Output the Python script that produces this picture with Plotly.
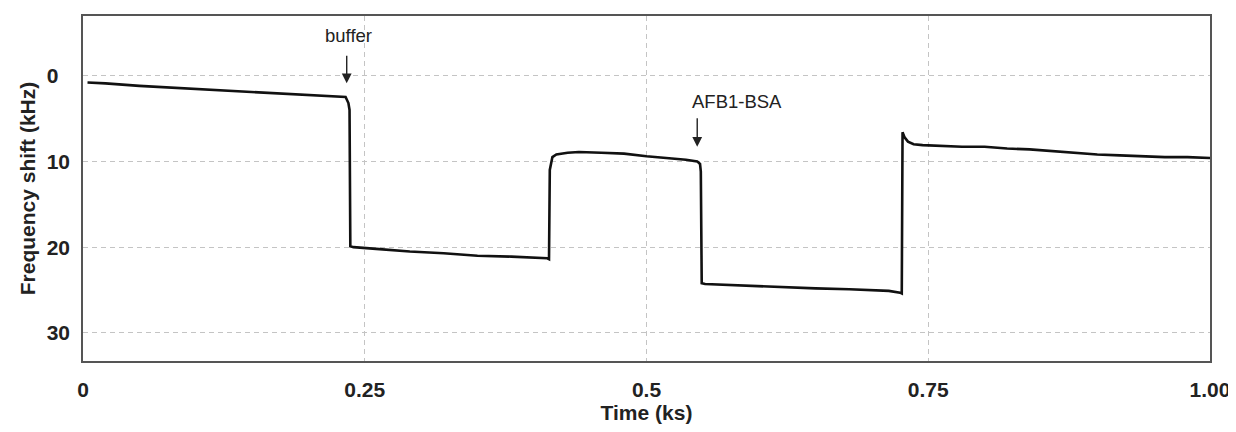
import plotly.graph_objects as go

# Time (ks) and frequency shift (kHz)
time_ks = [0.004, 0.02, 0.05, 0.08, 0.10, 0.13, 0.16, 0.19, 0.21, 0.228, 0.233, 0.2355, 0.2365,
           0.2372, 0.24, 0.26, 0.29, 0.32, 0.35, 0.38, 0.40, 0.412, 0.4135,
           0.4142, 0.4165, 0.42, 0.43, 0.44, 0.46, 0.48, 0.50, 0.52, 0.535, 0.545, 0.5475, 0.5482,
           0.549, 0.552, 0.57, 0.60, 0.62, 0.65, 0.68, 0.70, 0.715, 0.725, 0.7265,
           0.7272, 0.729, 0.732, 0.737, 0.745, 0.76, 0.78, 0.80, 0.82, 0.84, 0.86, 0.88, 0.90,
           0.92, 0.94, 0.96, 0.98, 1.00]
shift_khz = [0.8, 0.9, 1.2, 1.4, 1.6, 1.8, 2.0, 2.2, 2.3, 2.4, 2.5, 3.2, 4.0,
             19.9, 20.0, 20.2, 20.5, 20.7, 21.0, 21.1, 21.2, 21.3, 21.4,
             11.0, 9.5, 9.2, 9.0, 8.9, 9.0, 9.1, 9.4, 9.6, 9.8, 10.0, 10.3, 11.2,
             24.2, 24.3, 24.4, 24.6, 24.7, 24.8, 24.9, 25.0, 25.1, 25.3, 25.4,
             6.6, 7.2, 7.7, 8.0, 8.1, 8.2, 8.3, 8.3, 8.5, 8.6, 8.8, 9.0, 9.2,
             9.3, 9.4, 9.5, 9.5, 9.6]

x_ticks = [0, 0.25, 0.5, 0.75, 1.0]
x_ticklabels = ["0", "0.25", "0.5", "0.75", "1.00"]
y_ticks = [0, 10, 20, 30]
y_ticklabels = ["0\u2007", "10", "20", "30"]

fig = go.Figure()
fig.add_trace(go.Scatter(x=time_ks, y=shift_khz, mode="lines",
                         line=dict(color="#111111", width=2.6), showlegend=False))

font_family = "Liberation Sans, Arial, sans-serif"
tick_font = dict(size=21, weight="bold", color="#222222", family=font_family)
grid_dash = "5px,4px"

# The page body has an 8px default margin; the figure is sized so the plot area
# lands where it does in the reference.
fig.update_layout(
    width=1228, height=416,
    margin=dict(l=75, r=24, t=6, b=58),
    paper_bgcolor="white", plot_bgcolor="white",
    font=dict(family=font_family, color="#222222"),
    xaxis=dict(range=[0, 1.0], tickvals=x_ticks, ticktext=x_ticklabels,
               showgrid=True, gridcolor="#c4c4c4", griddash=grid_dash, gridwidth=1,
               showline=True, linecolor="#555555", linewidth=1.5, mirror=True,
               zeroline=False, ticks="", ticklabelstandoff=9,
               tickfont=tick_font,
               title=dict(text="Time (ks)", font=tick_font, standoff=2)),
    yaxis=dict(range=[33.27, -6.95], tickvals=y_ticks, ticktext=y_ticklabels,
               showgrid=True, gridcolor="#c4c4c4", griddash=grid_dash, gridwidth=1,
               showline=True, linecolor="#555555", linewidth=1.5, mirror=True,
               zeroline=False, ticks="", ticklabelstandoff=7,
               tickfont=tick_font,
               title=dict(text="Frequency shift (kHz)", font=tick_font, standoff=5)),
)

# Annotations: text labels and arrows
ann_font = dict(size=18.5, color="#222222", family=font_family)
fig.add_annotation(x=0.2355, y=-4.7, xref="x", yref="y", text="buffer", showarrow=False,
                   font=ann_font)
fig.add_annotation(x=0.234, y=0.9, ax=0.234, ay=-2.5, xref="x", yref="y", axref="x", ayref="y",
                   text="", showarrow=True, arrowhead=2, arrowsize=1.4, arrowwidth=1.4,
                   arrowcolor="#222222")
fig.add_annotation(x=0.5805, y=3.0, xref="x", yref="y", text="AFB1-BSA", showarrow=False,
                   font=ann_font)
fig.add_annotation(x=0.545, y=8.3, ax=0.545, ay=4.8, xref="x", yref="y", axref="x", ayref="y",
                   text="", showarrow=True, arrowhead=2, arrowsize=1.4, arrowwidth=1.4,
                   arrowcolor="#222222")

fig.write_html("out.html")
